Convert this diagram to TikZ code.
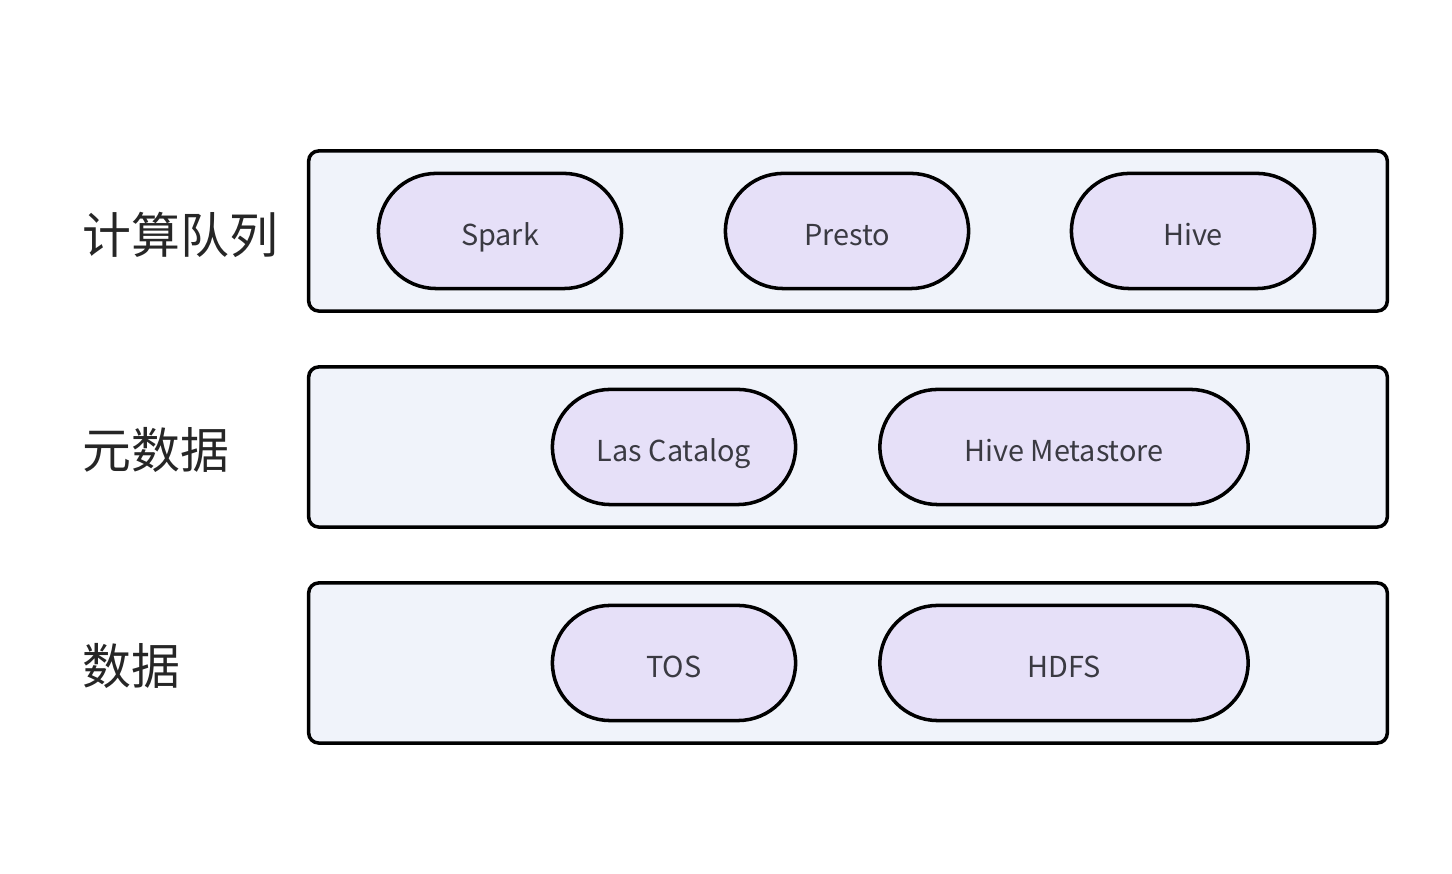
\documentclass[tikz,border=0pt]{standalone}
\usepackage{fontspec}
\newfontfamily\cjk{Noto Sans CJK SC}
\usepackage{tikz}
\usetikzlibrary{positioning}
\usepackage{xcolor}
\definecolor{layerfill}{HTML}{F0F3FA}
\definecolor{pillfill}{HTML}{E6E0F8}
\definecolor{txtgray}{HTML}{3A3A42}

\begin{document}
\begin{tikzpicture}[x=0.01cm, y=-0.01cm,
  layer/.style={draw=black, line width=1pt, fill=layerfill, rounded corners=0.1cm,
    minimum width=10.78cm, minimum height=1.6cm, inner sep=0pt},
  pill/.style={draw=black, line width=1pt, fill=pillfill, rounded corners=0.575cm,
    minimum height=1.15cm, inner sep=0pt, text height=1.0em, text depth=0.16em,
    font=\cjk\fontsize{8.2}{10}\selectfont, text=txtgray},
  short/.style={pill, minimum width=2.43cm},
  long/.style={pill, minimum width=3.68cm},
  tier/.style={anchor=west, inner sep=0pt, font=\cjk\fontsize{13.9}{17}\selectfont, text=black!85}]
  \useasboundingbox[fill=white] (0,0) rectangle (1452,874);

  % layers
  \node[layer] (compute) at (848,231) {};
  \node[layer] (meta) at (848,447) {};
  \node[layer] (data) at (848,663) {};

  \node[tier] (computelbl) at (82,235) {计算队列};
  \node[tier] (metalbl) at (82,450) {元数据};
  \node[tier] (datalbl) at (82,666) {数据};

  % compute engines
  \node[short] (spark) at (500,231) {Spark};
  \node[short] (presto) at (847,231) {Presto};
  \node[short] (hive) at (1193,231) {Hive};

  % metadata
  \node[short] (lascatalog) at (674,447) {Las Catalog};
  \node[long] (metastore) at (1064,447) {Hive Metastore};

  % storage
  \node[short] (tos) at (674,663) {TOS};
  \node[long] (hdfs) at (1064,663) {HDFS};
\end{tikzpicture}
\end{document}
